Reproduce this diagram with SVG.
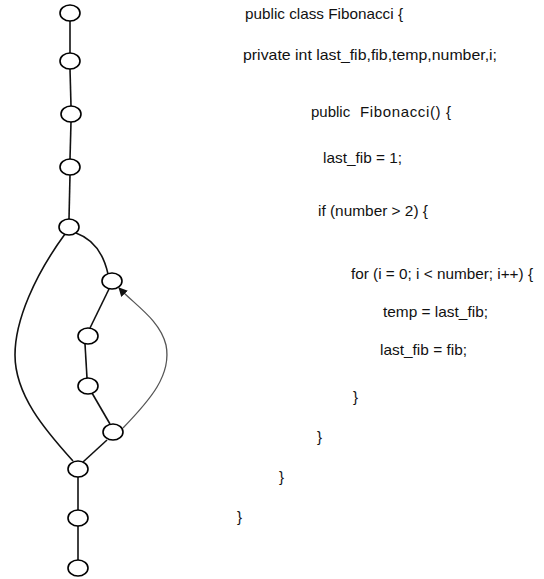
<svg xmlns="http://www.w3.org/2000/svg" width="544" height="579" viewBox="0 0 544 579">
<style>
.n{fill:#fff;stroke:#000;stroke-width:1.6}
.e{fill:none;stroke:#111;stroke-width:1.6}
.b{fill:none;stroke:#555;stroke-width:1.3}
text{font-family:"Liberation Sans",Arial,sans-serif;font-size:15px;fill:#111}
</style>
<defs>
<marker id="ah" viewBox="0 0 10 10" refX="9" refY="5" markerWidth="9" markerHeight="9" markerUnits="userSpaceOnUse" orient="auto">
<path d="M0,0 L10,5 L0,10 z" fill="#111"/>
</marker>
</defs>
<rect width="544" height="579" fill="#fff"/>
<g id="connectors">
<path class="e" d="M70,21 L70,53"/>
<path class="e" d="M70,69 L71,106"/>
<path class="e" d="M71,122 L70,159"/>
<path class="e" d="M70,175 L69,219"/>
<path class="e" d="M76,233 Q101,242 108,274"/>
<path class="e" d="M109,289 L90,328"/>
<path class="e" d="M85,344 L87,378"/>
<path class="e" d="M92,393 L110,424"/>
<path class="e" d="M107,440 L83,462"/>
<path class="e" d="M65,234 C35,275 15,320 15,355 C15,395 45,430 73,461"/>
<path class="e" d="M78,477 L78,510"/>
<path class="e" d="M78,526 L78,560"/>
<path class="b" d="M123,428 C150,400 172,375 166,345 C160,320 135,305 119,288" marker-end="url(#ah)"/>
</g>
<g id="n1"><ellipse class="n" cx="70" cy="13" rx="10" ry="8"/></g>
<g id="n2"><ellipse class="n" cx="70" cy="61" rx="10" ry="8"/></g>
<g id="n3"><ellipse class="n" cx="71" cy="114" rx="10" ry="8"/></g>
<g id="n4"><ellipse class="n" cx="70" cy="167" rx="10" ry="8"/></g>
<g id="n5"><ellipse class="n" cx="69" cy="227" rx="10" ry="8"/></g>
<g id="n6"><ellipse class="n" cx="112" cy="281" rx="10" ry="8"/></g>
<g id="n7"><ellipse class="n" cx="88" cy="336" rx="10" ry="8"/></g>
<g id="n8"><ellipse class="n" cx="88" cy="386" rx="10" ry="8"/></g>
<g id="n9"><ellipse class="n" cx="113" cy="432" rx="10" ry="8"/></g>
<g id="n10"><ellipse class="n" cx="78" cy="469" rx="10" ry="8"/></g>
<g id="n11"><ellipse class="n" cx="78" cy="518" rx="10" ry="8"/></g>
<g id="n12"><ellipse class="n" cx="78" cy="568" rx="10" ry="8"/></g>
<g id="code">
<text x="245" y="19" textLength="158" lengthAdjust="spacingAndGlyphs">public class Fibonacci {</text>
<text x="243" y="60" textLength="254" lengthAdjust="spacingAndGlyphs">private int last_fib,fib,temp,number,i;</text>
<text x="311" y="117">public</text>
<text x="360" y="117" textLength="91" lengthAdjust="spacing">Fibonacci() {</text>
<text x="323" y="163" textLength="79" lengthAdjust="spacingAndGlyphs">last_fib = 1;</text>
<text x="318" y="216" textLength="110" lengthAdjust="spacingAndGlyphs">if (number &gt; 2) {</text>
<text x="351" y="279" textLength="182" lengthAdjust="spacingAndGlyphs">for (i = 0; i &lt; number; i++) {</text>
<text x="383" y="317" textLength="105" lengthAdjust="spacingAndGlyphs">temp = last_fib;</text>
<text x="380" y="355" textLength="87" lengthAdjust="spacingAndGlyphs">last_fib = fib;</text>
<text x="353" y="402">}</text>
<text x="317" y="442">}</text>
<text x="279" y="482">}</text>
<text x="237" y="522">}</text>
</g>
</svg>
